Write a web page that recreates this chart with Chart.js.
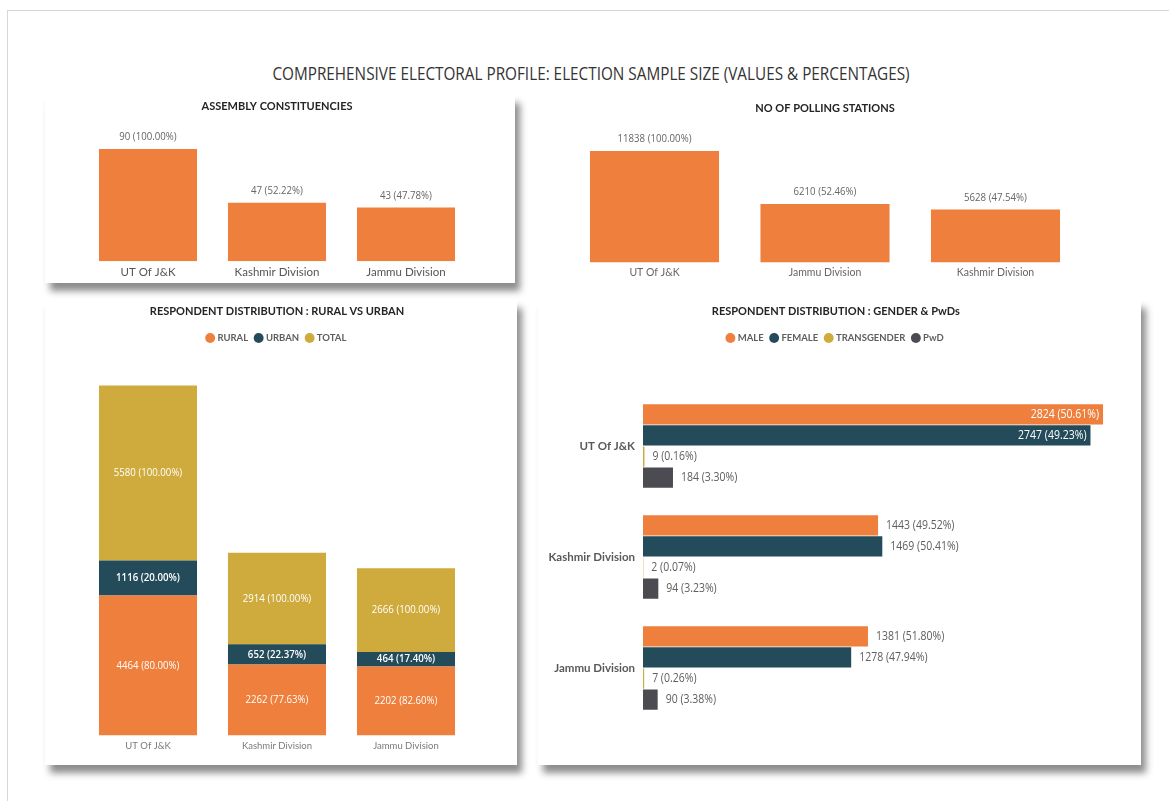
<!DOCTYPE html>
<html>
<head>
<meta charset="utf-8">
<title>Comprehensive Electoral Profile</title>
<script src="https://cdn.jsdelivr.net/npm/chart.js@4.4.1/dist/chart.umd.min.js"></script>
<style>
  html, body { margin: 0; padding: 0; background: #fff; }
  body { width: 1169px; height: 801px; position: relative; overflow: hidden; font-family: Lato, 'Open Sans', sans-serif; }
  .frame { position: absolute; left: 7px; top: 10px; width: 1190px; height: 820px; border: 1px solid #d8d8d8; }
  h1 { position: absolute; left: 0; top: 61px; width: 1182px; margin: 0; line-height: 22px; text-align: center;
       font: 400 18px 'Open Sans', sans-serif; color: #333; transform: scaleX(0.85); transform-origin: 591px 50%; }
  .card { position: absolute; background: #fff; box-shadow: 5px 8px 7px rgba(0, 0, 0, 0.45); }
  canvas { position: absolute; }
</style>
</head>
<body>
<div class="frame"></div>
<h1>COMPREHENSIVE ELECTORAL PROFILE: ELECTION SAMPLE SIZE (VALUES &amp; PERCENTAGES)</h1>

<div class="card" style="left:45px; top:95px; width:470px; height:188px;"></div>
<div class="card" style="left:45px; top:300px; width:472px; height:465px;"></div>
<div class="card" style="left:538px; top:300px; width:603px; height:465px;"></div>

<canvas id="assembly" width="470" height="188" style="left:45px; top:95px;"></canvas>
<canvas id="polling" width="618" height="188" style="left:520px; top:95px;"></canvas>
<canvas id="ruralUrban" width="472" height="465" style="left:45px; top:300px;"></canvas>
<canvas id="gender" width="613" height="465" style="left:528px; top:300px;"></canvas>

<script>
// assembly constituencies
const ASSEMBLY_REGIONS = ['UT Of J&K', 'Kashmir Division', 'Jammu Division'];
const ASSEMBLY_SEATS = [90, 47, 43];

// polling stations
const POLLING_REGIONS = ['UT Of J&K', 'Jammu Division', 'Kashmir Division'];
const POLLING_STATIONS = [11838, 6210, 5628];

// respondents
const RESPONDENT_REGIONS = ['UT Of J&K', 'Kashmir Division', 'Jammu Division'];
const RURAL = [4464, 2262, 2202];
const URBAN = [1116, 652, 464];
const TOTAL = [5580, 2914, 2666];
const MALE = [2824, 1443, 1381];
const FEMALE = [2747, 1469, 1278];
const TRANSGENDER = [9, 2, 7];
const PWD = [184, 94, 90];

const ORANGE = '#EF7F3C';
const TEAL = '#244B5A';
const GOLD = '#CEAB3C';
const GREY = '#4B4B51';

const LABEL_FONT = "'Open Sans', sans-serif";
const LABEL_STRETCH = 0.84;

Chart.defaults.font.family = "Lato, 'Open Sans', sans-serif";
Chart.defaults.animation = false;
Chart.defaults.responsive = false;
Chart.defaults.events = [];
Chart.defaults.plugins.tooltip.enabled = false;

function withPct(values, bases) {
    return values.map((v, i) => {
        const base = Array.isArray(bases) ? bases[i] : bases;
        return v + ' (' + (v / base * 100).toFixed(2) + '%)';
    });
}

// narrow text: squeeze horizontally around the anchor point
function fillNarrow(ctx, text, x, y) {
    ctx.save();
    ctx.translate(x, y);
    ctx.scale(LABEL_STRETCH, 1);
    ctx.fillText(text, 0, 0);
    ctx.restore();
}

// draws "value (pct%)" next to or inside each bar
const barLabels = {
    id: 'barLabels',
    afterDatasetsDraw(chart, args, opts) {
        if (!opts.mode) return;
        const {ctx, chartArea} = chart;
        ctx.save();
        chart.data.datasets.forEach((ds, i) => {
            const meta = chart.getDatasetMeta(i);
            ctx.font = ds.labelFont || opts.font;
            meta.data.forEach((bar, j) => {
                const text = ds.valueLabels[j];
                ctx.fillStyle = ds.labelColor || opts.color;
                ctx.textBaseline = 'middle';
                if (opts.mode === 'top') {
                    ctx.textAlign = 'center';
                    fillNarrow(ctx, text, bar.x, bar.y - opts.offset);
                } else if (opts.mode === 'center') {
                    ctx.textAlign = 'center';
                    fillNarrow(ctx, text, bar.x, (bar.y + bar.base) / 2);
                } else {
                    const w = ctx.measureText(text).width * LABEL_STRETCH;
                    if (bar.x + opts.offset + w > chartArea.right) {
                        ctx.textAlign = 'right';
                        ctx.fillStyle = opts.insideColor;
                        fillNarrow(ctx, text, bar.x - 4, bar.y);
                    } else {
                        ctx.textAlign = 'left';
                        fillNarrow(ctx, text, bar.x + opts.offset, bar.y);
                    }
                }
            });
        });
        ctx.restore();
    }
};
Chart.register(barLabels);

function panelTitle(text, top, bottom) {
    return {
        display: true,
        text: text,
        color: '#252423',
        font: {size: 11, weight: 'bold'},
        padding: {top: top, bottom: bottom}
    };
}

const legendOpts = {
    display: true,
    labels: {
        usePointStyle: true,
        pointStyle: 'circle',
        boxWidth: 5,
        boxHeight: 7,
        padding: 8,
        color: '#605E5C',
        font: {size: 9.5, weight: 'bold'}
    }
};

new Chart('assembly', {
    type: 'bar',
    data: {
        labels: ASSEMBLY_REGIONS,
        datasets: [{
            data: ASSEMBLY_SEATS,
            valueLabels: withPct(ASSEMBLY_SEATS, ASSEMBLY_SEATS[0]),
            backgroundColor: ORANGE,
            barPercentage: 0.76,
            categoryPercentage: 1
        }]
    },
    options: {
        layout: {padding: {left: 38.5, right: 44.5, top: 0, bottom: 0}},
        plugins: {
            legend: {display: false},
            title: panelTitle('ASSEMBLY CONSTITUENCIES', 5, 23.4),
            barLabels: {mode: 'top', offset: 12, color: '#666', font: '11.5px ' + LABEL_FONT}
        },
        scales: {
            x: {
                grid: {display: false, drawTicks: false},
                border: {display: false},
                ticks: {color: '#555', padding: 4, font: {size: 11.5}}
            },
            y: {display: false, min: 0, max: 100}
        }
    }
});

new Chart('polling', {
    type: 'bar',
    data: {
        labels: POLLING_REGIONS,
        datasets: [{
            data: POLLING_STATIONS,
            valueLabels: withPct(POLLING_STATIONS, POLLING_STATIONS[0]),
            backgroundColor: ORANGE,
            barPercentage: 0.757,
            categoryPercentage: 1
        }]
    },
    options: {
        layout: {padding: {left: 49.25, right: 57.25, top: 0, bottom: 0}},
        plugins: {
            legend: {display: false},
            title: panelTitle('NO OF POLLING STATIONS', 6.4, 25.5),
            barLabels: {mode: 'top', offset: 12, color: '#666', font: '11.5px ' + LABEL_FONT}
        },
        scales: {
            x: {
                grid: {display: false, drawTicks: false},
                border: {display: false},
                ticks: {color: '#666', padding: 4, font: {size: 10.5}}
            },
            y: {display: false, min: 0, max: 13000}
        }
    }
});

new Chart('ruralUrban', {
    type: 'bar',
    data: {
        labels: RESPONDENT_REGIONS,
        datasets: [
            {label: 'RURAL', data: RURAL, valueLabels: withPct(RURAL, TOTAL), backgroundColor: ORANGE},
            {label: 'URBAN', data: URBAN, valueLabels: withPct(URBAN, TOTAL), backgroundColor: TEAL,
             labelFont: '600 11.5px ' + LABEL_FONT},
            {label: 'TOTAL', data: TOTAL, valueLabels: withPct(TOTAL, TOTAL), backgroundColor: GOLD}
        ]
    },
    options: {
        datasets: {bar: {barPercentage: 0.76, categoryPercentage: 1}},
        layout: {padding: {left: 38.5, right: 46.5, top: 0, bottom: 8}},
        plugins: {
            legend: legendOpts,
            title: panelTitle('RESPONDENT DISTRIBUTION : RURAL VS URBAN', 4.4, 7.65),
            barLabels: {mode: 'center', color: '#fff', font: '11.5px ' + LABEL_FONT}
        },
        scales: {
            x: {
                stacked: true,
                grid: {display: false, drawTicks: false},
                border: {display: false},
                ticks: {color: '#7a7a7a', padding: 5, font: {size: 9.5}}
            },
            y: {stacked: true, display: false, min: 0, max: 12200}
        }
    }
});

new Chart('gender', {
    type: 'bar',
    data: {
        labels: RESPONDENT_REGIONS,
        datasets: [
            {label: 'MALE', data: MALE, valueLabels: withPct(MALE, TOTAL), backgroundColor: ORANGE},
            {label: 'FEMALE', data: FEMALE, valueLabels: withPct(FEMALE, TOTAL), backgroundColor: TEAL},
            {label: 'TRANSGENDER', data: TRANSGENDER, valueLabels: withPct(TRANSGENDER, TOTAL), backgroundColor: GOLD},
            {label: 'PwD', data: PWD, valueLabels: withPct(PWD, TOTAL), backgroundColor: GREY}
        ]
    },
    options: {
        indexAxis: 'y',
        datasets: {bar: {barPercentage: 0.96, categoryPercentage: 0.76}},
        layout: {padding: {left: 12, right: 9.3, top: 0, bottom: 41.5}},
        plugins: {
            legend: legendOpts,
            title: panelTitle('RESPONDENT DISTRIBUTION : GENDER & PwDs', 4.4, 7.65),
            barLabels: {mode: 'end', offset: 8, color: '#605E5C', insideColor: '#fff', font: '12.5px ' + LABEL_FONT}
        },
        scales: {
            x: {
                position: 'top',
                min: 0,
                max: 3000,
                grid: {display: false, drawTicks: false},
                border: {display: false},
                ticks: {display: false},
                afterFit(scale) { scale.height = 37.75; }
            },
            y: {
                grid: {display: false, drawTicks: false},
                border: {display: false},
                ticks: {color: '#595959', padding: 8, font: {size: 11.5, weight: 'bold'}},
                afterFit(scale) { scale.width = 103; }
            }
        }
    }
});
</script>
</body>
</html>
